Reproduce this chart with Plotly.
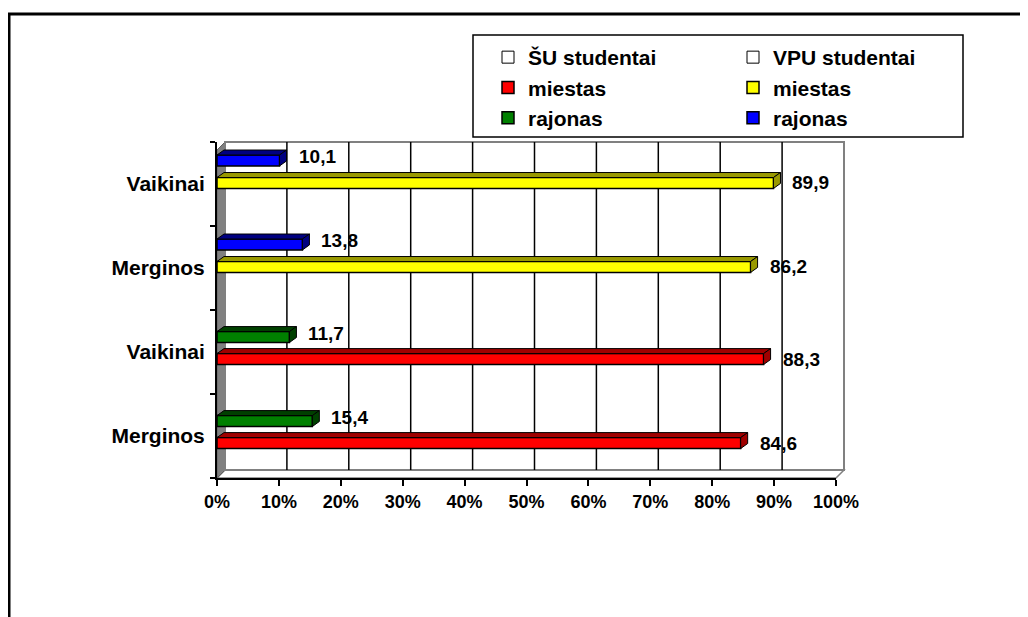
import plotly.graph_objects as go

categories = ["Merginos", "Vaikinai", "Merginos", "Vaikinai"]
su_miestas = [84.6, 88.3, None, None]
su_rajonas = [15.4, 11.7, None, None]
vpu_miestas = [None, None, 86.2, 89.9]
vpu_rajonas = [None, None, 13.8, 10.1]
blank = [None, None, None, None]
x_ticks = [0, 10, 20, 30, 40, 50, 60, 70, 80, 90, 100]

positions = list(range(len(categories)))

# the page puts the figure 8px in from the top left corner
OFF = 8
W, H = 1028 - OFF, 617 - OFF
# plot area in page pixels (front face of the 3D box)
L, R, T, B = 217 - OFF, 836 - OFF, 142 - OFF, 478 - OFF
DEPTH = 8
FONT = "Liberation Sans, Arial, sans-serif"

BAR_W = 0.13
DXU = 7 * 100 / (R - L)
DYU = 5 * 4 / (B - T)


def px_x(px):
    # page pixel -> paper
    return (px - OFF - L) / (R - L)


def px_y(py):
    return (B - (py - OFF)) / (B - T)


def path(points):
    return "M " + " L ".join(f"{x},{y}" for x, y in points) + " Z"


series = [
    # name, values, front, dark, offset, legend, label yshift
    ("miestas", su_miestas, "#FF0000", "#A00000", -0.149, "legend", 0),
    ("rajonas", su_rajonas, "#008000", "#004000", 0.113, "legend", 4),
    ("miestas", vpu_miestas, "#FFFF00", "#999900", -0.053, "legend2", 0),
    ("rajonas", vpu_rajonas, "#0000FF", "#000080", 0.215, "legend2", 4),
]

fig = go.Figure()

fig.add_trace(go.Bar(x=blank, y=positions, orientation="h", name="ŠU studentai",
                     marker_color="white", marker_line_color="black",
                     marker_line_width=1, legend="legend", hoverinfo="skip"))
fig.add_trace(go.Bar(x=blank, y=positions, orientation="h", name="VPU studentai",
                     marker_color="white", marker_line_color="black",
                     marker_line_width=1, legend="legend2", hoverinfo="skip"))

shapes = []
annotations = []

for name, vals, col, dark, off, leg, ysh in series:
    fig.add_trace(go.Bar(x=vals, y=positions, orientation="h", name=name,
                         width=BAR_W, offset=off,
                         marker_color=col, marker_line_color="black",
                         marker_line_width=1.5, legend=leg))
    for p, v in zip(positions, vals):
        if v is None:
            continue
        y0 = p + off
        y1 = y0 + BAR_W
        shapes.append(dict(type="path", xref="x", yref="y", layer="above",
                           path=path([(0, y1), (v, y1), (v + DXU, y1 + DYU), (DXU, y1 + DYU)]),
                           fillcolor=dark, line=dict(color="black", width=1)))
        shapes.append(dict(type="path", xref="x", yref="y", layer="above",
                           path=path([(v, y0), (v + DXU, y0 + DYU), (v + DXU, y1 + DYU), (v, y1)]),
                           fillcolor=dark, line=dict(color="black", width=1)))
        annotations.append(dict(x=v, y=y0 + BAR_W / 2, xref="x", yref="y",
                                text=f"{v:.1f}".replace(".", ","), showarrow=False,
                                xanchor="left", xshift=17, yshift=ysh,
                                font=dict(family=FONT, size=19, color="black", weight="bold")))

# 3D box: floor, side wall, back wall (page pixel corners)
fl, fr, bt, bb = 217, 836, 142, 478
shapes.append(dict(type="path", xref="paper", yref="paper", layer="below",
                   path=path([(px_x(fl), px_y(bb)), (px_x(fl + DEPTH), px_y(bb - DEPTH)),
                              (px_x(fr + DEPTH), px_y(bb - DEPTH)), (px_x(fr), px_y(bb))]),
                   fillcolor="white", line=dict(color="#808080", width=1.5)))
shapes.append(dict(type="path", xref="paper", yref="paper", layer="below",
                   path=path([(px_x(fl), px_y(bb)), (px_x(fl), px_y(bt + DEPTH)),
                              (px_x(fl + DEPTH), px_y(bt)), (px_x(fl + DEPTH), px_y(bb - DEPTH))]),
                   fillcolor="#808080", line=dict(color="#606060", width=1)))
shapes.append(dict(type="rect", xref="paper", yref="paper", layer="below",
                   x0=px_x(fl + DEPTH), x1=px_x(fr + DEPTH), y0=px_y(bb - DEPTH), y1=px_y(bt),
                   line=dict(color="#808080", width=2)))
for v in x_ticks[1:-1]:
    shapes.append(dict(type="line", xref="x", yref="paper", layer="below",
                       xsizemode="pixel", xanchor=v, x0=DEPTH, x1=DEPTH,
                       y0=px_y(bb - DEPTH), y1=px_y(bt),
                       line=dict(color="black", width=1.5)))

# legend box
shapes.append(dict(type="rect", xref="paper", yref="paper",
                   x0=px_x(473), x1=px_x(963), y0=px_y(137), y1=px_y(35),
                   line=dict(color="black", width=1.5)))

# outer chart border (left and top)
shapes.append(dict(type="path", xref="paper", yref="paper",
                   path=f"M {px_x(9)},{px_y(640)} L {px_x(9)},{px_y(14)} L {px_x(1040)},{px_y(14)}",
                   line=dict(color="black", width=3)))

fig.update_layout(
    width=W, height=H,
    margin=dict(l=L, r=W - R, t=T, b=H - B),
    paper_bgcolor="white", plot_bgcolor="rgba(0,0,0,0)",
    barmode="overlay",
    font=dict(family=FONT, color="black"),
    shapes=shapes,
    annotations=annotations,
    xaxis=dict(range=[0, 100], tickvals=x_ticks, ticktext=[f"{t}%" for t in x_ticks],
               showgrid=False, zeroline=False,
               showline=True, linecolor="black", linewidth=2,
               ticks="outside", ticklen=6, tickcolor="black", tickwidth=2,
               tickfont=dict(size=18, weight="bold")),
    yaxis=dict(range=[-0.5, 3.5], tickvals=positions, ticktext=categories,
               showgrid=False, zeroline=False,
               showline=True, linecolor="black", linewidth=2,
               ticks="", ticklabelstandoff=6,
               minor=dict(tickvals=[p - 0.5 for p in positions] + [positions[-1] + 0.5],
                          ticks="outside", ticklen=5, tickcolor="black", tickwidth=2),
               tickfont=dict(size=21, weight="bold")),
    legend=dict(x=px_x(488), y=px_y(37), xanchor="left", yanchor="top",
                bgcolor="rgba(0,0,0,0)", borderwidth=0, traceorder="normal",
                font=dict(size=21, weight="bold")),
    legend2=dict(x=px_x(733), y=px_y(37), xanchor="left", yanchor="top",
                 bgcolor="rgba(0,0,0,0)", borderwidth=0, traceorder="normal",
                 font=dict(size=21, weight="bold")),
)

fig.write_html("out.html")
